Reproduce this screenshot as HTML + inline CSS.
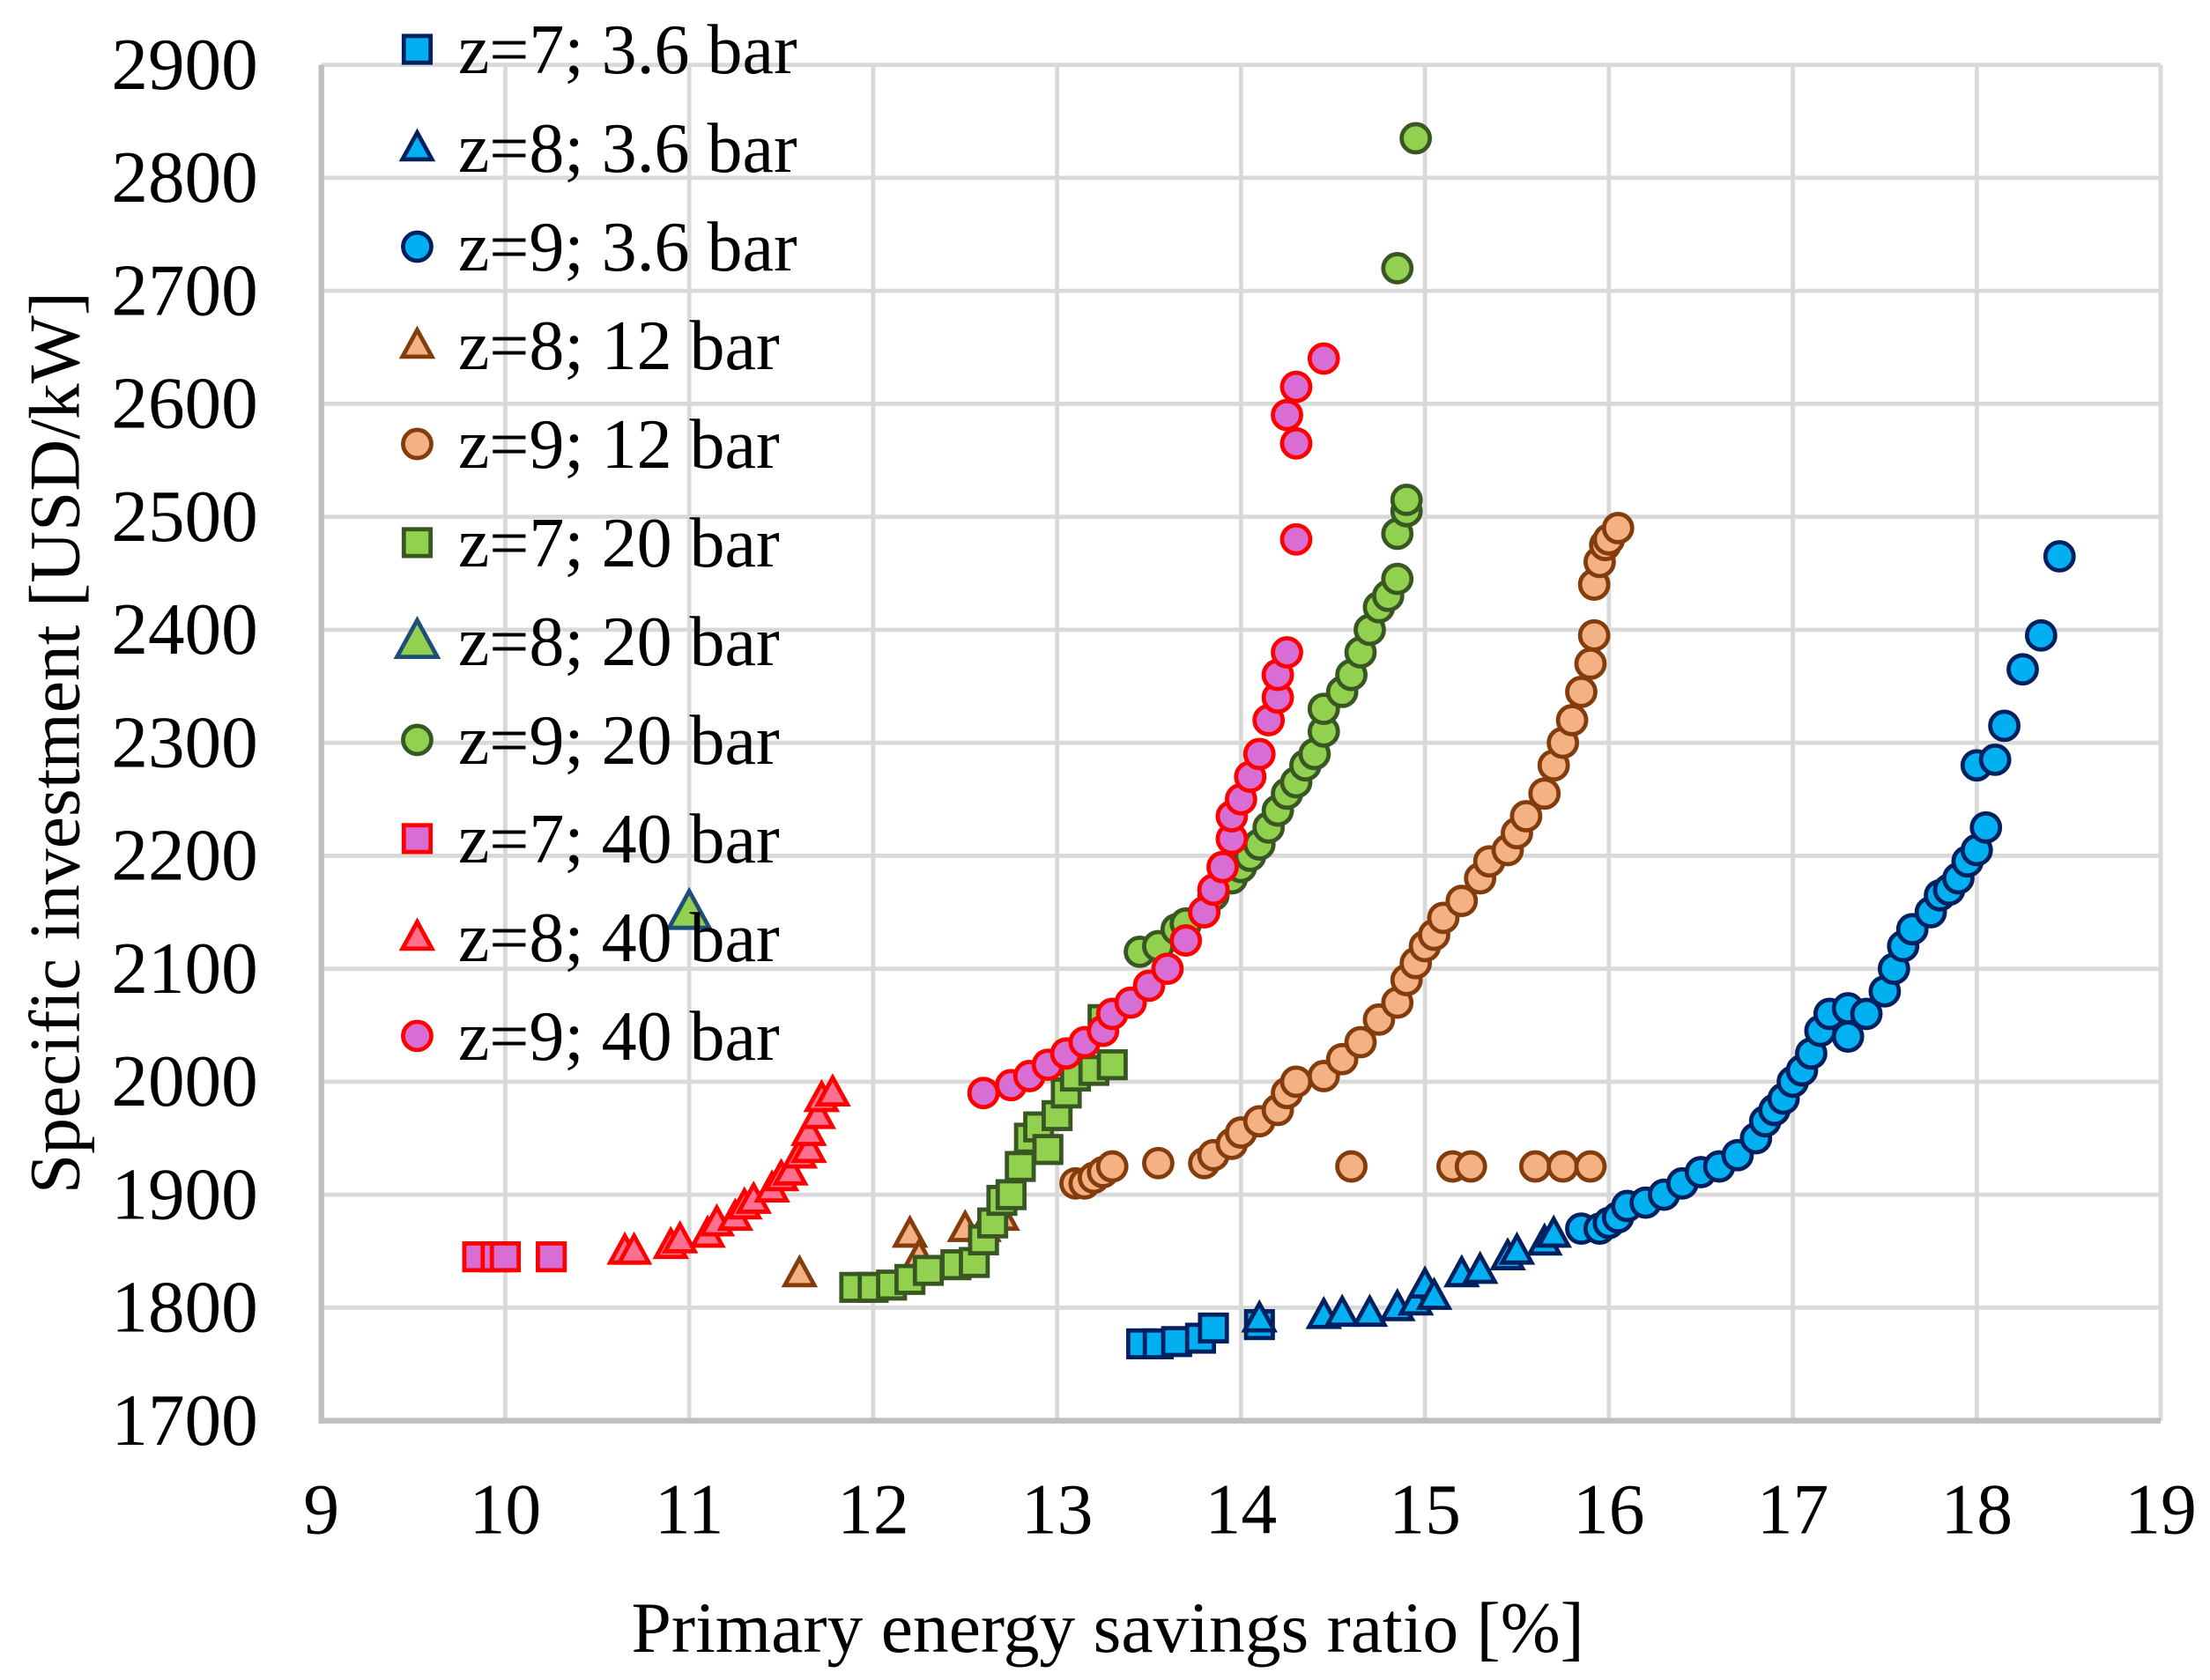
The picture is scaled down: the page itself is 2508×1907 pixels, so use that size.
<!DOCTYPE html>
<html><head><meta charset="utf-8">
<style>html,body{margin:0;padding:0;background:#fff;}svg{display:block;}</style>
</head><body>
<svg id="chart" width="2508" height="1907" viewBox="0 0 1568 1192" preserveAspectRatio="none" xmlns="http://www.w3.org/2000/svg" font-family="'Liberation Serif', serif">
<rect width="1568" height="1192" fill="#fff"/>
<g id="grid"></g>
<g id="ticks"></g>
<g id="marks"></g>
<g id="legend"></g>
<text x="0" y="0" transform="translate(56,527) rotate(-90)" text-anchor="middle" font-size="51">Specific investment [USD/kW]</text>
<text x="786" y="1172" text-anchor="middle" font-size="51">Primary energy savings ratio [%]</text>
</svg>
<script>
const xTicks=[9,10,11,12,13,14,15,16,17,18,19];
const yTicks=[1700,1800,1900,2000,2100,2200,2300,2400,2500,2600,2700,2800,2900];
const seriesNames=["z=7; 3.6 bar","z=8; 3.6 bar","z=9; 3.6 bar","z=8; 12 bar","z=9; 12 bar","z=7; 20 bar","z=8; 20 bar","z=9; 20 bar","z=7; 40 bar","z=8; 40 bar","z=9; 40 bar"];
const s1=[[13.46,1768],[13.55,1768],[13.65,1770],[13.78,1773],[13.85,1782],[14.1,1785]];
const s2=[[14.1,1790],[14.45,1793],[14.55,1795],[14.7,1795],[14.85,1800],[14.95,1805],[15.0,1820],[15.05,1810],[15.2,1830],[15.3,1833],[15.45,1845],[15.5,1850],[15.65,1858],[15.7,1865]];
const s3=[[15.85,1870],[15.95,1870],[16.0,1875],[16.05,1880],[16.1,1890],[16.2,1893],[16.3,1900],[16.4,1910],[16.5,1920],[16.6,1925],[16.7,1935],[16.8,1950],[16.85,1965],[16.9,1975],[16.95,1985],[17.0,2000],[17.05,2010],[17.1,2025],[17.15,2045],[17.2,2060],[17.3,2040],[17.3,2065],[17.4,2060],[17.5,2080],[17.55,2100],[17.6,2120],[17.65,2135],[17.75,2150],[17.8,2165],[17.85,2170],[17.9,2180],[17.95,2195],[18.0,2205],[18.05,2225],[18.0,2280],[18.1,2285],[18.15,2315],[18.25,2365],[18.35,2395],[18.45,2465]];
const s4=[[11.6,1830],[12.2,1865],[12.25,1845],[12.5,1870],[12.6,1870],[12.7,1880]];
const s5=[[13.1,1910],[13.15,1910],[13.2,1915],[13.25,1920],[13.3,1925],[13.55,1928],[13.8,1928],[13.85,1935],[14.6,1925],[15.15,1925],[15.25,1925],[15.6,1925],[15.75,1925],[15.9,1925],[13.95,1945],[14.0,1955],[14.1,1965],[14.2,1975],[14.25,1990],[14.3,2000],[14.45,2005],[14.55,2020],[14.65,2035],[14.75,2055],[14.85,2070],[14.9,2090],[14.95,2105],[15.0,2120],[15.05,2130],[15.1,2145],[15.2,2160],[15.3,2180],[15.35,2195],[15.45,2205],[15.5,2220],[15.55,2235],[15.65,2255],[15.7,2280],[15.75,2300],[15.8,2320],[15.85,2345],[15.9,2370],[15.92,2395],[15.92,2440],[15.95,2460],[15.98,2475],[16.0,2480],[16.05,2490]];
const s6=[[11.9,1818],[12.0,1818],[12.1,1820],[12.2,1825],[12.3,1833],[12.45,1838],[12.55,1840],[12.6,1860],[12.65,1875],[12.7,1895],[12.75,1900],[12.8,1925],[12.85,1950],[12.9,1960],[12.95,1940],[13.0,1970],[13.05,1990],[13.1,2005],[13.2,2010],[13.3,2015],[13.25,2055]];
const s7=[[11.0,2150]];
const s8=[[13.45,2115],[13.55,2120],[13.65,2135],[13.7,2140],[13.8,2150],[13.85,2165],[13.95,2180],[14.0,2190],[14.05,2200],[14.1,2210],[14.15,2225],[14.2,2240],[14.25,2255],[14.3,2265],[14.35,2280],[14.4,2290],[14.45,2310],[14.45,2330],[14.55,2345],[14.6,2360],[14.65,2380],[14.7,2400],[14.75,2420],[14.8,2430],[14.85,2445],[14.85,2485],[14.9,2505],[14.9,2515],[14.85,2720],[14.95,2835]];
const s9=[[9.85,1845],[9.95,1845],[10.0,1845],[10.25,1845]];
const s10=[[10.65,1850],[10.7,1850],[10.9,1855],[10.95,1860],[11.1,1865],[11.15,1875],[11.25,1880],[11.3,1890],[11.35,1895],[11.45,1905],[11.5,1915],[11.55,1920],[11.6,1935],[11.65,1940],[11.65,1955],[11.7,1970],[11.72,1985],[11.78,1990]];
const s11=[[12.6,1990],[12.75,1997],[12.85,2005],[12.95,2015],[13.05,2025],[13.15,2035],[13.25,2045],[13.3,2060],[13.4,2070],[13.5,2085],[13.6,2100],[13.7,2125],[13.8,2150],[13.85,2170],[13.9,2190],[13.95,2215],[13.95,2235],[14.0,2250],[14.05,2270],[14.1,2290],[14.15,2320],[14.2,2340],[14.2,2360],[14.25,2380],[14.3,2480],[14.3,2565],[14.25,2590],[14.3,2615],[14.45,2640]];

const NS="http://www.w3.org/2000/svg";
const X0=228,X1=1533,Y0=1008,Y1=46;
function sx(v){return X0+(v-9)/(19-9)*(X1-X0);}
function sy(v){return Y0-(v-1700)/(2900-1700)*(Y0-Y1);}
function mk(tag,attrs,parent){const e=document.createElementNS(NS,tag);for(const k in attrs)e.setAttribute(k,attrs[k]);parent.appendChild(e);return e;}
const grid=document.getElementById('grid'),ticks=document.getElementById('ticks'),marks=document.getElementById('marks'),legend=document.getElementById('legend');
xTicks.forEach(v=>{
  const l=mk('line',{x1:sx(v),x2:sx(v),y1:Y1,y2:Y0,stroke:'#d9d9d9','stroke-width':3},grid);
  
  
  const t=mk('text',{x:sx(v),y:1088,'text-anchor':'middle','font-size':51},ticks);t.textContent=v;
  
  
});
yTicks.forEach(v=>{
  const l=mk('line',{x1:X0,x2:X1,y1:sy(v),y2:sy(v),stroke:'#d9d9d9','stroke-width':3},grid);
  
  
  const t=mk('text',{x:183,y:sy(v)+17,'text-anchor':'end','font-size':52},ticks);t.textContent=v;
  
  
});
const ax=mk('polyline',{points:`${X0},${Y1} ${X0},${Y0} ${X1},${Y0}`,fill:'none',stroke:'#bfbfbf','stroke-width':4},grid);


const styles=[
 {s:'sq',f:'#00b0f0',c:'#002060',r:9.5},{s:'tri',f:'#00b0f0',c:'#002060',r:9.5},{s:'ci',f:'#00b0f0',c:'#002060',r:10},
 {s:'tri',f:'#f4b183',c:'#843c0c',r:9.5},{s:'ci',f:'#f4b183',c:'#843c0c',r:10},
 {s:'sq',f:'#92d050',c:'#385723',r:9.5},{s:'tri',f:'#92d050',c:'#1f4e79',r:13},{s:'ci',f:'#92d050',c:'#385723',r:10},
 {s:'sq',f:'#d86ed3',c:'#ff0000',r:9.5},{s:'tri',f:'#ff6f8f',c:'#ff0000',r:9.5},{s:'ci',f:'#d86ed3',c:'#ff0000',r:10}];
const data=[s1,s2,s3,s4,s5,s6,s7,s8,s9,s10,s11];
function marker(st,x,y,parent){
  const a={fill:st.f,stroke:st.c,'stroke-width':3};let e;
  if(st.s==='ci')e=mk('circle',Object.assign({cx:x,cy:y,r:st.r},a),parent);
  else if(st.s==='sq')e=mk('rect',Object.assign({x:x-st.r,y:y-st.r,width:2*st.r,height:2*st.r},a),parent);
  else {const r=st.r;e=mk('polygon',Object.assign({points:`${x},${y-r*1.15} ${x-r*1.1},${y+r*0.85} ${x+r*1.1},${y+r*0.85}`},a),parent);}
  return e;
}
data.forEach((ser,i)=>{
  ser.forEach(p=>{
    const e=marker(styles[i],sx(p[0]),sy(p[1]),marks);
    
    
  });
});
seriesNames.forEach((n,i)=>{
  const y=35+i*70;
  const st=Object.assign({},styles[i]);
  const m=marker(st,296,y,legend);
  
  
  const t=mk('text',{x:325,y:y+17,'font-size':50},legend);t.textContent=n;
  
  
});
</script>
</body></html>
